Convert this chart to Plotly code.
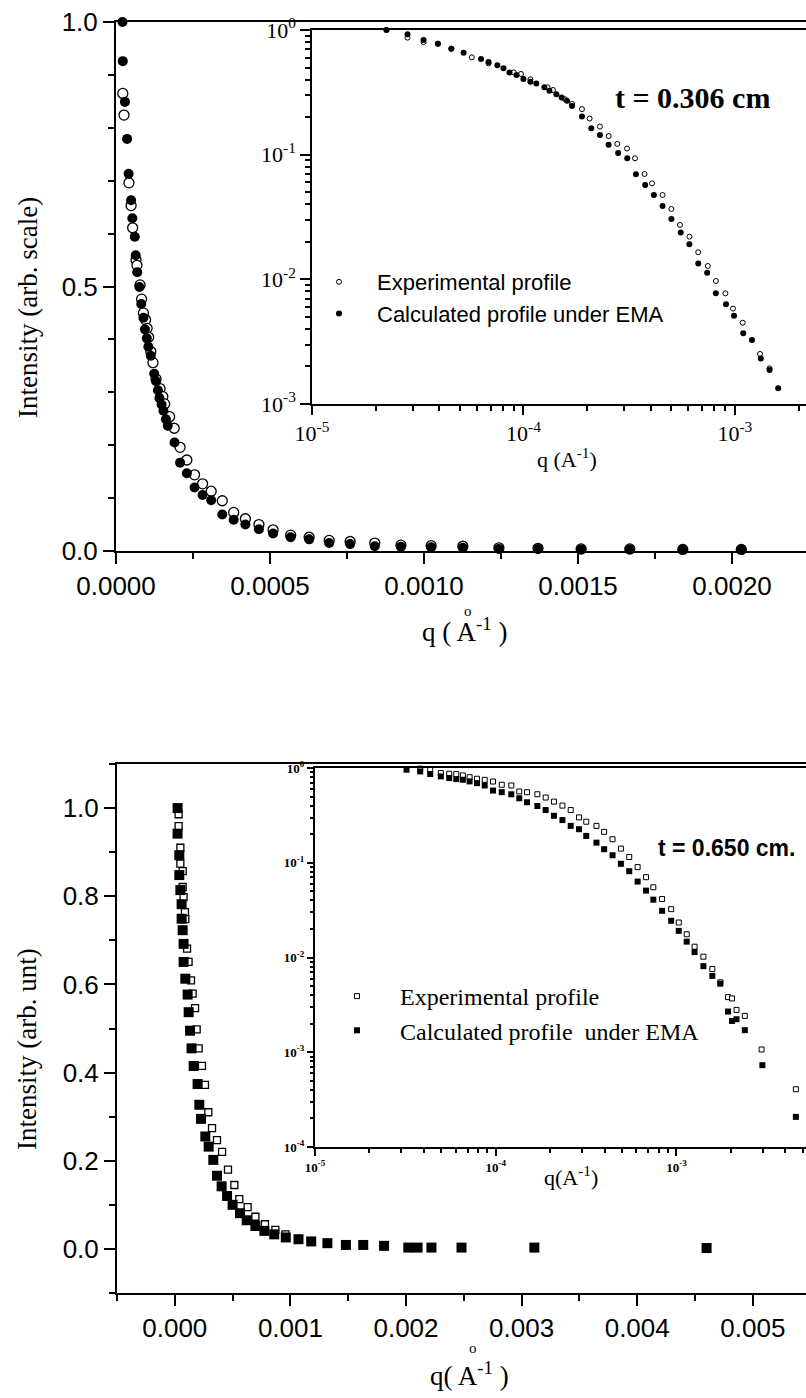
import plotly.graph_objects as go

W, H = 806, 1398
def px(x): return x / W
def py(y): return 1 - y / H

SANS = "Liberation Sans"
SERIF = "Liberation Serif"

# ---------------- data: top panel (t = 0.306 cm) ----------------
top_calc_q = [2.1e-5, 2.2e-5, 2.9e-5, 3.6e-5, 4.1e-5, 4.9e-5, 5.3e-5, 6.1e-5, 6.4e-5, 6.9e-5,
              7.6e-5, 8.2e-5, 8.9e-5, 9.4e-5, 1.0e-4, 1.05e-4, 1.13e-4, 1.24e-4, 1.30e-4, 1.36e-4,
              1.41e-4, 1.48e-4, 1.54e-4, 1.62e-4, 1.68e-4, 1.90e-4, 2.08e-4, 2.30e-4, 2.55e-4, 2.81e-4,
              3.09e-4, 3.45e-4, 3.82e-4, 4.20e-4, 4.64e-4, 5.10e-4, 5.67e-4, 6.27e-4, 6.92e-4, 7.60e-4,
              8.40e-4, 9.25e-4, 1.023e-3, 1.126e-3, 1.243e-3, 1.37e-3, 1.51e-3, 1.668e-3, 1.84e-3, 2.03e-3]
top_calc_I = [1.0, 0.926, 0.849, 0.779, 0.713, 0.663, 0.629, 0.594, 0.559, 0.527,
              0.499, 0.467, 0.441, 0.419, 0.402, 0.386, 0.369, 0.335, 0.321, 0.304,
              0.289, 0.277, 0.265, 0.249, 0.237, 0.205, 0.167, 0.147, 0.120, 0.106,
              0.096, 0.069, 0.059, 0.050, 0.041, 0.033, 0.026, 0.022, 0.015, 0.013,
              0.009, 0.008, 0.007, 0.006, 0.004, 0.004, 0.003, 0.003, 0.003, 0.003]
top_exp_q = [2.2e-5, 2.6e-5, 4.2e-5, 4.9e-5, 5.4e-5, 6.5e-5, 6.8e-5, 7.8e-5, 8.3e-5, 8.9e-5,
             9.6e-5, 1.01e-4, 1.06e-4, 1.13e-4, 1.20e-4, 1.30e-4, 1.43e-4, 1.52e-4, 1.58e-4, 1.74e-4,
             1.89e-4, 2.08e-4, 2.30e-4, 2.55e-4, 2.81e-4, 3.09e-4, 3.45e-4, 3.82e-4, 4.20e-4, 4.64e-4,
             5.10e-4, 5.67e-4, 6.27e-4, 6.92e-4, 7.60e-4, 8.40e-4, 9.25e-4, 1.023e-3, 1.126e-3, 1.243e-3,
             1.37e-3, 1.51e-3, 1.668e-3, 1.84e-3, 2.03e-3]
top_exp_I = [0.865, 0.824, 0.696, 0.653, 0.611, 0.55, 0.54, 0.503, 0.476, 0.450,
             0.437, 0.421, 0.404, 0.377, 0.356, 0.325, 0.307, 0.292, 0.278, 0.254,
             0.232, 0.196, 0.172, 0.144, 0.127, 0.113, 0.095, 0.073, 0.061, 0.050,
             0.040, 0.030, 0.026, 0.020, 0.018, 0.015, 0.011, 0.010, 0.009, 0.006,
             0.005, 0.004, 0.004, 0.003, 0.003]

# inset (log-log)
in1_calc_q = [2.25e-5, 2.83e-5, 3.37e-5, 3.94e-5, 4.56e-5, 5.21e-5, 6.3e-5, 6.84e-5, 7.53e-5, 8.05e-5,
              8.59e-5, 9.27e-5, 1.0e-4, 1.079e-4, 1.151e-4, 1.256e-4, 1.327e-4, 1.432e-4, 1.517e-4, 1.607e-4,
              1.698e-4, 1.892e-4, 2.094e-4, 2.301e-4, 2.529e-4, 2.805e-4, 3.097e-4, 3.404e-4, 3.767e-4, 4.140e-4,
              4.550e-4, 5.01e-4, 5.546e-4, 6.095e-4, 6.714e-4, 7.396e-4, 8.128e-4, 9.078e-4, 9.91e-4, 1.096e-3,
              1.205e-3, 1.327e-3, 1.459e-3, 1.603e-3]
in1_calc_I = [1.0, 0.923, 0.83, 0.776, 0.708, 0.658, 0.585, 0.553, 0.521, 0.493,
              0.457, 0.435, 0.404, 0.385, 0.373, 0.347, 0.326, 0.305, 0.288, 0.271,
              0.246, 0.202, 0.163, 0.144, 0.120, 0.103, 0.0935, 0.0695, 0.0571, 0.0475,
              0.0387, 0.0305, 0.0238, 0.0191, 0.0134, 0.0113, 0.00772, 0.0063, 0.00511, 0.00369,
              0.00326, 0.00232, 0.00187, 0.00134]
in1_exp_q = [2.25e-5, 2.83e-5, 3.37e-5, 3.94e-5, 4.56e-5, 5.7e-5, 6.84e-5, 9.0e-5, 9.74e-5, 1.079e-4,
             1.30e-4, 1.38e-4, 1.574e-4, 1.70e-4, 1.892e-4, 2.056e-4, 2.30e-4, 2.53e-4, 2.78e-4, 3.09e-4,
             3.37e-4, 3.74e-4, 4.06e-4, 4.55e-4, 5.01e-4, 5.5e-4, 6.1e-4, 6.71e-4, 7.45e-4, 8.13e-4,
             9.02e-4, 9.8e-4, 1.089e-3, 1.315e-3, 1.459e-3]
in1_exp_I = [1.0, 0.868, 0.80, 0.776, 0.708, 0.604, 0.54, 0.457, 0.444, 0.402,
             0.347, 0.330, 0.278, 0.255, 0.232, 0.195, 0.168, 0.141, 0.122, 0.112,
             0.0935, 0.070, 0.0589, 0.0475, 0.0367, 0.0273, 0.0220, 0.0165, 0.0128, 0.0097,
             0.00772, 0.00582, 0.00449, 0.00252, 0.00193]

# ---------------- data: bottom panel (t = 0.650 cm) ----------------
bot_calc_q = [2.4e-5, 2.4e-5, 3.9e-5, 3.9e-5, 4.8e-5, 5.9e-5, 5.9e-5, 6.8e-5, 7.6e-5, 7.6e-5,
              9.1e-5, 1.11e-4, 1.2e-4, 1.32e-4, 1.45e-4, 1.63e-4, 1.97e-4, 2.12e-4, 2.27e-4, 2.64e-4,
              2.93e-4, 3.33e-4, 3.65e-4, 4.05e-4, 4.52e-4, 5.0e-4, 5.64e-4, 6.22e-4, 6.97e-4, 7.75e-4,
              8.6e-4, 9.6e-4, 1.07e-3, 1.18e-3, 1.32e-3, 1.48e-3, 1.63e-3, 1.81e-3, 2.02e-3, 2.10e-3,
              2.22e-3, 2.48e-3, 3.11e-3, 4.60e-3]
bot_calc_I = [1.0, 0.942, 0.893, 0.848, 0.814, 0.782, 0.749, 0.723, 0.692, 0.651,
              0.613, 0.577, 0.537, 0.495, 0.455, 0.415, 0.374, 0.327, 0.295, 0.255,
              0.232, 0.202, 0.166, 0.142, 0.120, 0.100, 0.081, 0.065, 0.052, 0.041,
              0.033, 0.026, 0.022, 0.017, 0.013, 0.009, 0.009, 0.007, 0.003, 0.003,
              0.003, 0.003, 0.003, 0.002]
bot_exp_q = [3.3e-5, 3.3e-5, 4.8e-5, 4.8e-5, 6.8e-5, 6.8e-5, 7.6e-5, 8.8e-5, 9.1e-5, 1.06e-4,
             1.19e-4, 1.40e-4, 1.54e-4, 1.75e-4, 1.89e-4, 2.06e-4, 2.35e-4, 2.61e-4, 2.9e-4, 3.22e-4,
             3.65e-4, 4.09e-4, 4.6e-4, 5.15e-4, 5.58e-4, 6.3e-4, 6.97e-4, 7.8e-4, 8.7e-4, 9.57e-4]
bot_exp_I = [0.986, 0.959, 0.910, 0.874, 0.857, 0.821, 0.798, 0.764, 0.748, 0.681,
             0.651, 0.609, 0.579, 0.546, 0.498, 0.455, 0.415, 0.372, 0.310, 0.274,
             0.247, 0.220, 0.180, 0.145, 0.113, 0.095, 0.073, 0.056, 0.043, 0.033]

in2_calc_q = [3.21e-5, 3.82e-5, 4.34e-5, 4.97e-5, 5.53e-5, 6.05e-5, 6.58e-5, 7.17e-5, 7.88e-5, 8.69e-5,
              9.66e-5, 1.08e-4, 1.22e-4, 1.35e-4, 1.49e-4, 1.70e-4, 1.89e-4, 2.10e-4, 2.34e-4, 2.60e-4,
              2.89e-4, 3.17e-4, 3.61e-4, 3.98e-4, 4.43e-4, 4.93e-4, 5.48e-4, 6.10e-4, 6.79e-4, 7.45e-4,
              8.33e-4, 9.35e-4, 1.03e-3, 1.14e-3, 1.26e-3, 1.41e-3, 1.58e-3, 1.75e-3, 1.93e-3, 2.03e-3,
              2.15e-3, 2.39e-3, 2.99e-3, 4.58e-3]
in2_calc_I = [0.96, 0.92, 0.863, 0.815, 0.783, 0.764, 0.751, 0.722, 0.692, 0.654,
              0.578, 0.556, 0.528, 0.479, 0.435, 0.397, 0.360, 0.313, 0.282, 0.245,
              0.226, 0.192, 0.163, 0.139, 0.120, 0.0975, 0.0815, 0.0633, 0.0508, 0.0408,
              0.0311, 0.0244, 0.0191, 0.0147, 0.0114, 0.0081, 0.0064, 0.00529, 0.00269, 0.00214,
              0.00223, 0.00171, 0.00073, 0.000208]
in2_exp_q = [3.82e-5, 4.34e-5, 4.97e-5, 5.53e-5, 6.05e-5, 6.58e-5, 7.17e-5, 7.88e-5, 8.69e-5, 9.66e-5,
             1.08e-4, 1.22e-4, 1.35e-4, 1.49e-4, 1.70e-4, 1.89e-4, 2.10e-4, 2.34e-4, 2.60e-4, 2.89e-4,
             3.17e-4, 3.61e-4, 3.98e-4, 4.43e-4, 4.93e-4, 5.48e-4, 6.10e-4, 6.79e-4, 7.45e-4, 8.33e-4,
             9.35e-4, 1.03e-3, 1.14e-3, 1.26e-3, 1.41e-3, 1.58e-3, 1.75e-3, 1.93e-3, 2.03e-3, 2.15e-3,
             2.39e-3, 2.96e-3, 4.58e-3]
in2_exp_I = [0.984, 0.96, 0.885, 0.87, 0.863, 0.835, 0.80, 0.77, 0.75, 0.72,
             0.665, 0.654, 0.565, 0.555, 0.528, 0.488, 0.442, 0.401, 0.360, 0.301,
             0.271, 0.245, 0.212, 0.177, 0.141, 0.115, 0.090, 0.0704, 0.0551, 0.0414,
             0.0324, 0.0234, 0.0176, 0.0130, 0.0102, 0.00757, 0.00547, 0.00382, 0.0037, 0.0028,
             0.00242, 0.00107, 0.000407]

# tick labels
top_x_ticks = [0, 0.0005, 0.0010, 0.0015, 0.0020]
top_x_text = ["0.0000", "0.0005", "0.0010", "0.0015", "0.0020"]
top_y_ticks = [0, 0.5, 1.0]
top_y_text = ["0.0", "0.5", "1.0"]
bot_x_ticks = [0, 0.001, 0.002, 0.003, 0.004, 0.005]
bot_x_text = ["0.000", "0.001", "0.002", "0.003", "0.004", "0.005"]
bot_y_ticks = [0, 0.2, 0.4, 0.6, 0.8, 1.0]
bot_y_text = ["0.0", "0.2", "0.4", "0.6", "0.8", "1.0"]
in1_x_ticks = [1e-5, 1e-4, 1e-3]
in1_x_text = ["10<sup>-5</sup>", "10<sup>-4</sup>", "10<sup>-3</sup>"]
in1_y_ticks = [1e-3, 1e-2, 1e-1, 1]
in1_y_text = ["10<sup>-3</sup>", "10<sup>-2</sup>", "10<sup>-1</sup>", "10<sup>0</sup>"]
in2_x_ticks = [1e-5, 1e-4, 1e-3]
in2_x_text = ["10<sup>-5</sup>", "10<sup>-4</sup>", "10<sup>-3</sup>"]
in2_y_ticks = [1e-4, 1e-3, 1e-2, 1e-1, 1]
in2_y_text = ["10<sup>-4</sup>", "10<sup>-3</sup>", "10<sup>-2</sup>", "10<sup>-1</sup>", "10<sup>0</sup>"]

def log_minor(lo, hi):
    out = []
    e = lo
    while e <= hi:
        for m in range(2, 10):
            out.append(m * 10 ** e)
        e += 1
    return out

fig = go.Figure()

# top main
fig.add_trace(go.Scatter(x=top_exp_q, y=top_exp_I, mode="markers", xaxis="x", yaxis="y",
                         marker=dict(symbol="circle", size=10, color="white", line=dict(width=1.3, color="black")),
                         showlegend=False, cliponaxis=False))
fig.add_trace(go.Scatter(x=top_calc_q, y=top_calc_I, mode="markers", xaxis="x", yaxis="y",
                         marker=dict(symbol="circle", size=10, color="black"),
                         showlegend=False, cliponaxis=False))
# top inset
fig.add_trace(go.Scatter(x=in1_exp_q, y=in1_exp_I, mode="markers", xaxis="x2", yaxis="y2",
                         name="Experimental profile", legend="legend",
                         marker=dict(symbol="circle", size=5, color="white", line=dict(width=1, color="black")),
                         cliponaxis=False))
fig.add_trace(go.Scatter(x=in1_calc_q, y=in1_calc_I, mode="markers", xaxis="x2", yaxis="y2",
                         name="Calculated profile under EMA", legend="legend",
                         marker=dict(symbol="circle", size=6, color="black"),
                         cliponaxis=False))
# bottom main
fig.add_trace(go.Scatter(x=bot_exp_q, y=bot_exp_I, mode="markers", xaxis="x3", yaxis="y3",
                         marker=dict(symbol="square", size=7, color="white", line=dict(width=1.3, color="black")),
                         showlegend=False, cliponaxis=False))
fig.add_trace(go.Scatter(x=bot_calc_q, y=bot_calc_I, mode="markers", xaxis="x3", yaxis="y3",
                         marker=dict(symbol="square", size=10, color="black"),
                         showlegend=False, cliponaxis=False))
# bottom inset
fig.add_trace(go.Scatter(x=in2_exp_q, y=in2_exp_I, mode="markers", xaxis="x4", yaxis="y4",
                         name="Experimental profile", legend="legend2",
                         marker=dict(symbol="square", size=5, color="white", line=dict(width=1, color="black")),
                         cliponaxis=False))
fig.add_trace(go.Scatter(x=in2_calc_q, y=in2_calc_I, mode="markers", xaxis="x4", yaxis="y4",
                         name="Calculated profile  under EMA", legend="legend2",
                         marker=dict(symbol="square", size=6, color="black"),
                         cliponaxis=False))

main_tick_font = dict(family=SANS, size=26, color="black")
common = dict(showgrid=False, zeroline=False, showline=True, linecolor="black",
              ticks="outside", tickcolor="black", automargin=False)

fig.update_layout(
    width=W, height=H, autosize=False,
    margin=dict(l=0, r=0, t=0, b=0, pad=0),
    paper_bgcolor="white", plot_bgcolor="rgba(0,0,0,0)",
    xaxis=dict(**common, domain=[px(116), 1.0], anchor="y", range=[0, 0.00224],
               tickvals=top_x_ticks, ticktext=top_x_text, ticklen=11, tickwidth=2, linewidth=2,
               mirror=True, tickfont=main_tick_font,
               minor=dict(tick0=0, dtick=0.00025, ticks="outside", ticklen=6, tickwidth=2, tickcolor="black")),
    yaxis=dict(**common, domain=[py(551), py(22)], anchor="x", range=[0, 1.0],
               tickvals=top_y_ticks, ticktext=top_y_text, ticklen=11, tickwidth=2, linewidth=2,
               tickfont=main_tick_font,
               minor=dict(tick0=0, dtick=0.1, ticks="outside", ticklen=6, tickwidth=2, tickcolor="black")),
    xaxis2=dict(**common, type="log", domain=[px(312), 1.0], anchor="y2", range=[-5, -2.6635],
                tickvals=in1_x_ticks, ticktext=in1_x_text, ticklen=9, tickwidth=1.5, linewidth=1.5,
                mirror=True, tickfont=dict(family=SERIF, size=22, color="black"),
                minor=dict(tickvals=log_minor(-5, -3), ticks="outside", ticklen=5, tickwidth=1.5, tickcolor="black")),
    yaxis2=dict(**common, type="log", domain=[py(404), py(30)], anchor="x2", range=[-3, 0],
                tickvals=in1_y_ticks, ticktext=in1_y_text, ticklen=10, tickwidth=1.5, linewidth=1.5,
                tickfont=dict(family=SERIF, size=22, color="black"),
                minor=dict(tickvals=log_minor(-3, -1), ticks="outside", ticklen=5, tickwidth=1.5, tickcolor="black")),
    xaxis3=dict(**common, domain=[px(117), 1.0], anchor="y3", range=[-0.0005, 0.00546],
                tickvals=bot_x_ticks, ticktext=bot_x_text, ticklen=11, tickwidth=2, linewidth=2,
                mirror=True, tickfont=main_tick_font,
                minor=dict(tick0=0, dtick=0.0005, ticks="outside", ticklen=6, tickwidth=2, tickcolor="black")),
    yaxis3=dict(**common, domain=[py(1293), py(764)], anchor="x3", range=[-0.1, 1.1],
                tickvals=bot_y_ticks, ticktext=bot_y_text, ticklen=11, tickwidth=2, linewidth=2,
                tickfont=main_tick_font,
                minor=dict(tick0=0, dtick=0.1, ticks="outside", ticklen=6, tickwidth=2, tickcolor="black")),
    xaxis4=dict(**common, type="log", domain=[px(315), 1.0], anchor="y4", range=[-5, -2.283],
                tickvals=in2_x_ticks, ticktext=in2_x_text, ticklen=7, tickwidth=2, linewidth=2,
                mirror=True, tickfont=dict(family=SERIF, size=13, color="black", weight="bold"),
                ticklabelstandoff=0,
                minor=dict(tickvals=log_minor(-5, -3), ticks="outside", ticklen=4, tickwidth=1.5, tickcolor="black")),
    yaxis4=dict(**common, type="log", domain=[py(1147), py(768)], anchor="x4", range=[-4, 0],
                tickvals=in2_y_ticks, ticktext=in2_y_text, ticklen=6, tickwidth=2, linewidth=2,
                tickfont=dict(family=SERIF, size=13, color="black", weight="bold"),
                minor=dict(tickvals=log_minor(-4, -1), ticks="outside", ticklen=3, tickwidth=1.5, tickcolor="black")),
    legend=dict(x=px(301), y=py(261), xanchor="left", yanchor="top",
                font=dict(family=SANS, size=22, color="black"), bgcolor="rgba(0,0,0,0)",
                itemwidth=66, tracegroupgap=0),
    legend2=dict(x=px(314), y=py(974), xanchor="left", yanchor="top",
                 font=dict(family=SERIF, size=24, color="black"), bgcolor="rgba(0,0,0,0)",
                 itemwidth=76, tracegroupgap=0),
)

ann = []
def text(x, y, s, size, family=SERIF, angle=0, weight="normal", xanchor="center"):
    ann.append(dict(x=px(x), y=py(y), xref="paper", yref="paper", text=s, showarrow=False,
                    xanchor=xanchor, yanchor="middle", textangle=angle,
                    font=dict(family=family, size=size, color="black", weight=weight)))

# top panel texts
text(28, 308, "Intensity (arb. scale)", 27, angle=-90)
text(465, 630, "q ( A<sup>-1</sup> )", 27)
text(468, 611, "o", 15)
text(567, 458, "q (A<sup>-1</sup>)", 22)
text(692, 97, "t = 0.306 cm", 30, weight="bold")
# bottom panel texts
text(27, 1049, "Intensity (arb. unt)", 27, angle=-90)
text(470, 1374, "q( A<sup>-1</sup> )", 27)
text(473, 1348, "o", 15)
text(571, 1176, "q(A<sup>-1</sup>)", 22)
text(726, 848, "t = 0.650 cm.", 23, family=SANS, weight="bold")

fig.update_layout(annotations=ann)
fig.write_html("out.html", config={"displayModeBar": False},
               post_script="document.body.style.margin='0px';document.body.style.overflow='hidden';")
